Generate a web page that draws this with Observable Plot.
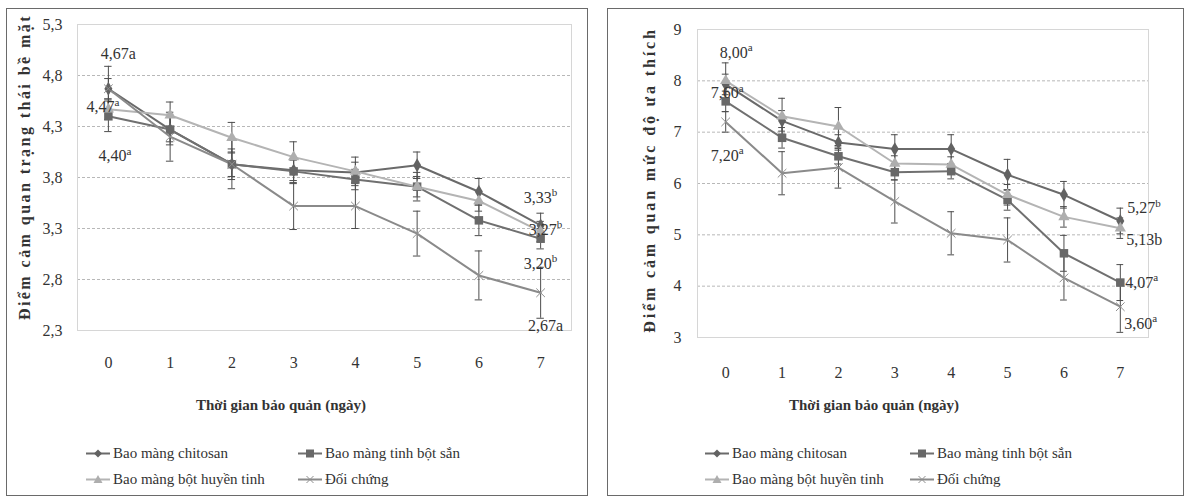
<!DOCTYPE html>
<html><head><meta charset="utf-8">
<script src="https://cdn.jsdelivr.net/npm/d3@7"></script>
<script src="https://cdn.jsdelivr.net/npm/@observablehq/plot@0.6"></script>
<style>
body{margin:0;background:#fff;}
#wrap{position:relative;width:1185px;height:500px;background:#fff;font-family:"Liberation Serif","DejaVu Serif",serif;color:#333;overflow:hidden}
.frame{position:absolute;border:1px solid #6a6a6a;box-sizing:border-box}
.plot{position:absolute;top:0}
.ytitle{position:absolute;font-weight:bold;font-size:16px;white-space:nowrap;transform:translate(-50%,-50%) rotate(-90deg);color:#333}
.xtitle{position:absolute;font-weight:bold;font-size:15px;white-space:nowrap;transform:translate(-50%,-50%);color:#333}
.leg{position:absolute;display:flex;align-items:center;font-size:15px;white-space:nowrap;transform:translateY(-50%);color:#333}
.leg svg{margin-right:2px}
</style>
</head><body>
<div id="wrap">
  <div class="frame" style="left:6px;top:8px;width:582px;height:488px"></div>
  <div class="frame" style="left:607px;top:8px;width:577px;height:488px"></div>
</div>
<script>
// ---------- data ----------
const days = [0, 1, 2, 3, 4, 5, 6, 7];
const seriesNames = ["Bao màng chitosan", "Bao màng tinh bột sắn", "Bao màng bột huyền tinh", "Đối chứng"];

// Panel 1: Điểm cảm quan trạng thái bề mặt
const chitosan1  = [4.67, 4.27, 3.93, 3.87, 3.85, 3.92, 3.66, 3.33];
const tinhBotSan1 = [4.40, 4.27, 3.93, 3.86, 3.78, 3.71, 3.38, 3.20];
const huyenTinh1 = [4.47, 4.41, 4.19, 4.00, 3.86, 3.71, 3.57, 3.27];
const doiChung1  = [4.67, 4.20, 3.93, 3.52, 3.52, 3.25, 2.84, 2.67];
const errChitosan1  = [0.22, 0.15, 0.12, 0.10, 0.10, 0.13, 0.13, 0.12];
const errTinhBotSan1 = [0.15, 0.12, 0.24, 0.12, 0.10, 0.10, 0.15, 0.10];
const errHuyenTinh1 = [0.10, 0.13, 0.15, 0.15, 0.14, 0.14, 0.10, 0.10];
const errDoiChung1  = [0.10, 0.24, 0.15, 0.23, 0.22, 0.22, 0.24, 0.25];
const yTicks1 = [2.3, 2.8, 3.3, 3.8, 4.3, 4.8, 5.3];
const yTickLabels1 = ["2,3", "2,8", "3,3", "3,8", "4,3", "4,8", "5,3"];
const yTitle1 = "Điểm cảm quan trạng thái bề mặt";
const labelSeries1 = [0, 2, 1, 0, 2, 1, 3];
const labelDay1 = [0, 0, 0, 7, 7, 7, 7];
const labelText1 = ["4,67a", "4,47", "4,40", "3,33", "3,27", "3,20", "2,67a"];
const labelSup1 = ["", "a", "a", "b", "b", "b", ""];

// Panel 2: Điểm cảm quan mức độ ưa thích
const chitosan2  = [7.93, 7.22, 6.80, 6.67, 6.67, 6.17, 5.78, 5.27];
const tinhBotSan2 = [7.60, 6.89, 6.53, 6.22, 6.24, 5.68, 4.64, 4.07];
const huyenTinh2 = [8.00, 7.31, 7.11, 6.39, 6.37, 5.78, 5.35, 5.13];
const doiChung2  = [7.20, 6.20, 6.31, 5.65, 5.03, 4.90, 4.16, 3.60];
const errChitosan2  = [0.20, 0.20, 0.15, 0.28, 0.28, 0.30, 0.26, 0.25];
const errTinhBotSan2 = [0.20, 0.20, 0.15, 0.15, 0.15, 0.20, 0.35, 0.35];
const errHuyenTinh2 = [0.35, 0.35, 0.37, 0.15, 0.15, 0.20, 0.20, 0.20];
const errDoiChung2  = [0.20, 0.42, 0.40, 0.42, 0.42, 0.43, 0.43, 0.50];
const yTicks2 = [3, 4, 5, 6, 7, 8, 9];
const yTickLabels2 = ["3", "4", "5", "6", "7", "8", "9"];
const yTitle2 = "Điểm cảm quan mức độ ưa thích";
const labelSeries2 = [2, 1, 3, 0, 2, 1, 3];
const labelDay2 = [0, 0, 0, 7, 7, 7, 7];
const labelText2 = ["8,00", "7,60", "7,20", "5,27", "5,13b", "4,07", "3,60"];
const labelSup2 = ["a", "a", "a", "b", "", "a", "a"];

const xTitle = "Thời gian bảo quản (ngày)";

// ---------- styles ----------
const lineColors = ["#6a6a6a", "#707070", "#b4b4b4", "#8a8a8a"];
const markColors = ["#626262", "#686868", "#aeaeae", "#8f8f8f"];
const symbols = ["diamond", "square", "triangle", "times"];
const font = "'Liberation Serif', 'DejaVu Serif', serif";

function buildPanel(cfg) {
  const rows = [];
  cfg.values.forEach((arr, i) => arr.forEach((v, j) =>
    rows.push({series: seriesNames[i], si: i, day: days[j], v, e: cfg.errors[i][j]})));
  const labels = cfg.labelText.map((t, k) => {
    const si = cfg.labelSeries[k], day = cfg.labelDay[k];
    return {day, v: cfg.values[si][days.indexOf(day)], text: t, sup: cfg.labelSup[k], k};
  });
  const tickMap = new Map(cfg.yTicks.map((t, i) => [t, cfg.yTickLabels[i]]));
  const marks = [
    Plot.gridY(cfg.yTicks, {stroke: "#9a9a9a", strokeOpacity: 0.7, strokeDasharray: "3,2"}),
    Plot.frame({stroke: "#d6d6d6"}),
    Plot.axisX(days, {tickSize: 0, tickPadding: cfg.xPad, fontSize: 16, tickFormat: d => String(d), label: null}),
    Plot.axisY(cfg.yTicks, {tickSize: 0, tickPadding: cfg.yPad, fontSize: 16, tickFormat: d => tickMap.get(d), label: null}),
    Plot.ruleX(rows, {x: "day", y1: d => d.v - d.e, y2: d => d.v + d.e, stroke: "#4d4d4d", strokeWidth: 1}),
    Plot.ruleY(rows, {y: d => d.v + d.e, x1: d => d.day - 0.06, x2: d => d.day + 0.06, stroke: "#4d4d4d", strokeWidth: 1}),
    Plot.ruleY(rows, {y: d => d.v - d.e, x1: d => d.day - 0.06, x2: d => d.day + 0.06, stroke: "#4d4d4d", strokeWidth: 1}),
    Plot.line(rows, {x: "day", y: "v", z: "series", stroke: d => lineColors[d.si], strokeWidth: 2})
  ];
  seriesNames.forEach((s, i) => {
    const sub = rows.filter(d => d.si === i);
    if (symbols[i] === "times") {
      marks.push(Plot.dot(sub, {x: "day", y: "v", symbol: "times", r: 4, stroke: markColors[i], strokeWidth: 1}));
    } else {
      marks.push(Plot.dot(sub, {x: "day", y: "v", symbol: symbols[i], r: symbols[i] === "square" ? 4.8 : 4.2, fill: markColors[i], stroke: "none"}));
    }
  });
  const off = cfg.labelOffsets;
  const plain = labels.filter(d => !d.sup), supd = labels.filter(d => d.sup);
  const chart = Plot.plot({
    width: 590, height: 390,
    marginLeft: cfg.ml, marginRight: cfg.mr, marginTop: cfg.mt, marginBottom: cfg.mb,
    style: {fontFamily: font, fontSize: "16px", color: "#333", background: "transparent", overflow: "visible"},
    x: {type: "linear", domain: [-0.5, 7.5]},
    y: {domain: cfg.yDomain},
    marks: [
      ...marks,
      ...plain.map(d => Plot.text([d], {x: "day", y: "v", text: "text", fontSize: 16, fill: "#333",
        textAnchor: "middle", lineAnchor: "middle", dx: off[d.k][0], dy: off[d.k][1]})),
      ...supd.map(d => Plot.text([d], {x: "day", y: "v", text: "text", fontSize: 16, fill: "#333",
        textAnchor: "end", lineAnchor: "middle", dx: off[d.k][0], dy: off[d.k][1]})),
      ...supd.map(d => Plot.text([d], {x: "day", y: "v", text: "sup", fontSize: 11, fill: "#333",
        textAnchor: "start", lineAnchor: "middle", dx: off[d.k][0], dy: off[d.k][1] - 5}))
    ]
  });
  chart.classList.add("plot");
  chart.style.left = cfg.left + "px";
  return chart;
}

const wrap = document.getElementById("wrap");

wrap.appendChild(buildPanel({
  left: 0, ml: 77, mr: 19, mt: 24, mb: 60, xPad: 26, yPad: 15,
  yDomain: [2.3, 5.3], yTicks: yTicks1, yTickLabels: yTickLabels1,
  values: [chitosan1, tinhBotSan1, huyenTinh1, doiChung1],
  errors: [errChitosan1, errTinhBotSan1, errHuyenTinh1, errDoiChung1],
  labelSeries: labelSeries1, labelDay: labelDay1, labelText: labelText1, labelSup: labelSup1,
  labelOffsets: [[10, -35], [6, -2], [18, 40], [11, -28], [16, -2], [11, 25], [5, 33]]
}));
wrap.appendChild(buildPanel({
  left: 595, ml: 102, mr: 37, mt: 29, mb: 53, xPad: 29, yPad: 16,
  yDomain: [3, 9], yTicks: yTicks2, yTickLabels: yTickLabels2,
  values: [chitosan2, tinhBotSan2, huyenTinh2, doiChung2],
  errors: [errChitosan2, errTinhBotSan2, errHuyenTinh2, errDoiChung2],
  labelSeries: labelSeries2, labelDay: labelDay2, labelText: labelText2, labelSup: labelSup2,
  labelOffsets: [[22, -28], [13, -8], [13, 34], [35, -13], [24, 12], [33, 0], [32, 17]]
}));

// titles
function addDiv(cls, text, x, y, spacing) {
  const d = document.createElement("div");
  d.className = cls; d.textContent = text;
  d.style.left = x + "px"; d.style.top = y + "px";
  if (spacing) d.style.letterSpacing = spacing + "px";
  wrap.appendChild(d);
}
addDiv("ytitle", yTitle1, 25, 167, 2.45);
addDiv("ytitle", yTitle2, 650, 180, 2.85);
addDiv("xtitle", xTitle, 281, 405);
addDiv("xtitle", xTitle, 874, 405);

// legends
function legendSymbol(i) {
  const c = lineColors[i], m = markColors[i];
  let sym = "";
  if (symbols[i] === "diamond") sym = `<path d="M12,2 L16,6 L12,10 L8,6Z" fill="${m}"/>`;
  else if (symbols[i] === "square") sym = `<rect x="8" y="2" width="8" height="8" fill="${m}"/>`;
  else if (symbols[i] === "triangle") sym = `<path d="M12,1.5 L16.5,9.5 L7.5,9.5Z" fill="${m}"/>`;
  else sym = `<path d="M8.5,2.5 L15.5,9.5 M15.5,2.5 L8.5,9.5" stroke="${m}" stroke-width="1"/>`;
  return `<svg width="25" height="12"><line x1="0" y1="6" x2="24" y2="6" stroke="${c}" stroke-width="2"/>${sym}</svg>`;
}
function addLegend(x0, x1, yA, yB) {
  const pos = [[x0, yA], [x1, yA], [x0, yB], [x1, yB]];
  [0, 1, 2, 3].forEach((si, k) => {
    const d = document.createElement("div");
    d.className = "leg";
    d.style.left = pos[k][0] + "px"; d.style.top = pos[k][1] + "px";
    d.innerHTML = legendSymbol(si) + `<span>${seriesNames[si]}</span>`;
    wrap.appendChild(d);
  });
}
addLegend(86, 298, 453, 479);
addLegend(705, 910, 453, 479);
</script>
</body></html>
